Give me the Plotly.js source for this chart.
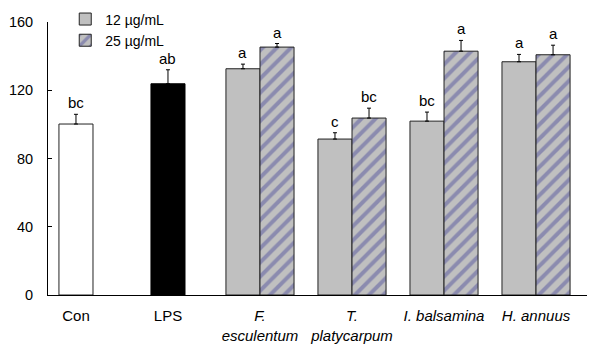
<!DOCTYPE html>
<html>
<head>
<meta charset="utf-8">
<script src="https://cdn.plot.ly/plotly-3.0.1.min.js"></script>
<style>html,body{margin:0;padding:0;background:#fff;}#chart{width:595px;height:344px;}</style>
</head>
<body>
<div id="chart"></div>
<script>
var categories = ['Con', 'LPS', 'F. esculentum', 'T. platycarpum', 'I. balsamina', 'H. annuus'];
var tickLabels = ['Con', 'LPS', '<i>F.</i><br><i>esculentum</i>', '<i>T.</i><br><i>platycarpum</i>', '<i>I. balsamina</i>', '<i>H. annuus</i>'];
var plantCats = ['F. esculentum', 'T. platycarpum', 'I. balsamina', 'H. annuus'];

var conValue = [100.2];
var conErr = [5.7];
var conLetter = ['bc'];

var lpsValue = [123.8];
var lpsErr = [8.2];
var lpsLetter = ['ab'];

var dose12Values = [132.6, 91.4, 101.9, 136.7];
var dose12Err = [2.7, 3.7, 5.3, 4.3];
var dose12Letters = ['a', 'c', 'bc', 'a'];

var dose25Values = [145.3, 103.7, 142.9, 140.8];
var dose25Err = [2.1, 5.8, 6.3, 5.6];
var dose25Letters = ['a', 'bc', 'a', 'a'];

var barW = 0.37;
var FONT = 'Liberation Sans, Arial, sans-serif';
var errStyle = function (arr) {
  return {type: 'data', array: arr, arrayminus: arr.map(function () { return 0; }), symmetric: false,
          color: '#000', thickness: 1, width: 2};
};

var traces = [
  {type: 'bar', x: ['Con'], y: conValue, width: barW, offset: -barW / 2, showlegend: false,
   marker: {color: '#ffffff', line: {color: '#222', width: 1}}, error_y: errStyle(conErr)},
  {type: 'bar', x: ['LPS'], y: lpsValue, width: barW, offset: -barW / 2, showlegend: false,
   marker: {color: '#000000', line: {color: '#000', width: 1}}, error_y: errStyle(lpsErr)},
  {type: 'bar', name: '12 µg/mL', x: plantCats, y: dose12Values, width: barW, offset: -barW,
   marker: {color: '#c0c0c0', line: {color: '#222', width: 1}}, error_y: errStyle(dose12Err)},
  {type: 'bar', name: '25 µg/mL', x: plantCats, y: dose25Values, width: barW, offset: 0,
   marker: {color: '#c0c0c0', line: {color: '#222', width: 1},
            pattern: {shape: '/', fgcolor: '#55559e', bgcolor: '#c0c0c0', size: 10, solidity: 0.4, fillmode: 'overlay'}},
   error_y: errStyle(dose25Err)}
];

var annotations = [];
function addLetters(xs, vals, errs, letters, dx) {
  for (var i = 0; i < xs.length; i++) {
    annotations.push({
      x: categories.indexOf(xs[i]) + dx, y: vals[i] + errs[i], xref: 'x', yref: 'y',
      text: letters[i], showarrow: false, yanchor: 'bottom', yshift: 1,
      font: {family: FONT, size: 15, color: '#000'}
    });
  }
}
addLetters(['Con'], conValue, conErr, conLetter, 0);
addLetters(['LPS'], lpsValue, lpsErr, lpsLetter, 0);
addLetters(plantCats, dose12Values, dose12Err, dose12Letters, -barW / 2);
addLetters(plantCats, dose25Values, dose25Err, dose25Letters, barW / 2);

var layout = {
  width: 595, height: 344,
  margin: {l: 48, r: 8, t: 22, b: 49, autoexpand: false},
  paper_bgcolor: '#fff', plot_bgcolor: '#fff',
  font: {family: FONT, size: 14, color: '#000'},
  barmode: 'overlay',
  showlegend: true,
  legend: {x: 0.032, y: 1.068, xanchor: 'left', yanchor: 'top', bgcolor: 'rgba(0,0,0,0)',
           font: {family: FONT, size: 14, color: '#000'}, itemwidth: 30, tracegroupgap: 0},
  xaxis: {type: 'category', categoryorder: 'array', categoryarray: categories,
          tickvals: categories, ticktext: tickLabels, range: [-0.304, 5.554],
          showline: true, linecolor: '#000', linewidth: 1, ticks: '', showgrid: false, zeroline: false,
          ticklabelstandoff: 7, tickfont: {family: FONT, size: 15, color: '#000'}},
  yaxis: {range: [0, 160], tickvals: [0, 40, 80, 120, 160], showline: true, linecolor: '#000', linewidth: 1,
          ticks: 'inside', ticklen: 4, tickcolor: '#000', showgrid: false, zeroline: false,
          ticklabelstandoff: 11, tickfont: {family: FONT, size: 14.5, color: '#000'}},
  annotations: annotations
};

Plotly.newPlot('chart', traces, layout, {displayModeBar: false, staticPlot: true});
</script>
</body>
</html>
